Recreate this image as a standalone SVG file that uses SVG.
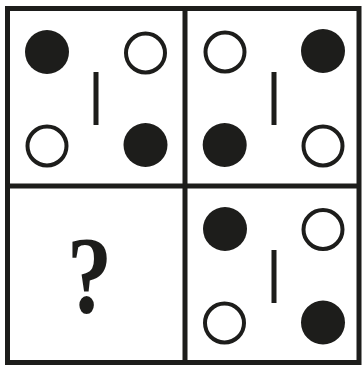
<svg xmlns="http://www.w3.org/2000/svg" width="362" height="365" viewBox="0 0 362 365">
<style>
.f{fill:#1d1d1b}
.o{fill:#fff;stroke:#1d1d1b;stroke-width:4}
.b{fill:#1d1d1b}
.g{fill:none;stroke:#1d1d1b;stroke-width:5}
.q{font-family:"Liberation Serif",serif;font-weight:bold;font-size:110px;fill:#1d1d1b}
</style>
<rect width="362" height="365" fill="#fff"/>
<g id="grid">
<rect class="g" x="7.5" y="8.5" width="351.5" height="354"/>
<line class="g" x1="185" y1="8.5" x2="185" y2="362.5"/>
<line class="g" x1="7.5" y1="186" x2="359" y2="186"/>
</g>
<g id="cell1">
<circle class="f" cx="47" cy="52" r="22"/>
<circle class="o" cx="145.5" cy="53" r="19.5"/>
<circle class="o" cx="47" cy="146" r="19.5"/>
<circle class="f" cx="145.5" cy="145" r="22"/>
<rect class="b" x="93.5" y="72" width="5" height="53"/>
</g>
<g id="cell2">
<circle class="o" cx="225" cy="52" r="19.5"/>
<circle class="f" cx="323" cy="51" r="22"/>
<circle class="f" cx="224.7" cy="145" r="22"/>
<circle class="o" cx="323" cy="146" r="19.5"/>
<rect class="b" x="271.5" y="72" width="5" height="53"/>
</g>
<g id="cell3">
<text class="q" transform="translate(89.5,312) scale(0.82,1)" x="0" y="0" text-anchor="middle">?</text>
</g>
<g id="cell4">
<circle class="f" cx="225" cy="229" r="22"/>
<circle class="o" cx="323" cy="229.5" r="19.5"/>
<circle class="o" cx="224.5" cy="323" r="19.5"/>
<circle class="f" cx="323" cy="322.5" r="22"/>
<rect class="b" x="271.5" y="250" width="5" height="53"/>
</g>
</svg>
